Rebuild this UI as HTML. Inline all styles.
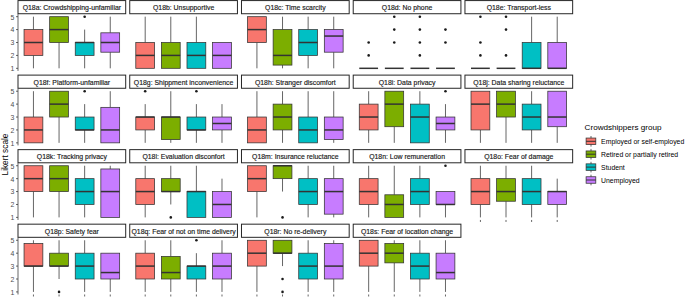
<!DOCTYPE html>
<html><head><meta charset="utf-8"><style>
html,body{margin:0;padding:0;background:#fff;}
svg{display:block;}
text{font-family:"Liberation Sans",sans-serif;}
.st{font-size:6.9px;fill:#1a1a1a;text-anchor:middle;stroke:#1a1a1a;stroke-width:0.16px;}
.tk{font-size:6.9px;fill:#4d4d4d;text-anchor:end;}
.yt{font-size:8.3px;fill:#000;text-anchor:middle;}
.lt{font-size:8.1px;fill:#000;}
.ll{font-size:6.86px;fill:#000;}
.w{stroke:#333;stroke-width:0.75;}
.b{stroke:#333;stroke-width:0.75;}
.m{stroke:#333;stroke-width:1.5;}
.ax{stroke:#333;stroke-width:0.75;}
</style></head><body>
<svg width="685" height="297" viewBox="0 0 685 297">
<rect width="685" height="297" fill="#fff"/>
<rect x="18" y="0.58" width="107.7" height="13.15" fill="#fff" stroke="#262626" stroke-width="1.0"/>
<text x="71.85" y="10.28" class="st">Q18a: Crowdshipping-unfamiliar</text>
<line x1="33.45" y1="16.68" x2="33.45" y2="29.59" class="w"/>
<line x1="33.45" y1="55.41" x2="33.45" y2="68.32" class="w"/>
<rect x="24.05" y="29.59" width="18.8" height="25.82" fill="#F8766D" class="b"/>
<line x1="24.05" y1="42.5" x2="42.85" y2="42.5" class="m"/>
<line x1="59.05" y1="42.5" x2="59.05" y2="68.32" class="w"/>
<rect x="49.65" y="16.68" width="18.8" height="25.82" fill="#7CAE00" class="b"/>
<line x1="49.65" y1="29.59" x2="68.45" y2="29.59" class="m"/>
<line x1="84.65" y1="29.59" x2="84.65" y2="42.5" class="w"/>
<line x1="84.65" y1="55.41" x2="84.65" y2="68.32" class="w"/>
<rect x="75.25" y="42.5" width="18.8" height="12.91" fill="#00BFC4" class="b"/>
<line x1="75.25" y1="42.5" x2="94.05" y2="42.5" class="m"/>
<circle cx="84.65" cy="16.68" r="1.3" fill="#1a1a1a"/>
<line x1="110.25" y1="16.68" x2="110.25" y2="32.82" class="w"/>
<line x1="110.25" y1="52.18" x2="110.25" y2="68.32" class="w"/>
<rect x="100.85" y="32.82" width="18.8" height="19.37" fill="#C77CFF" class="b"/>
<line x1="100.85" y1="42.5" x2="119.65" y2="42.5" class="m"/>
<line x1="18" y1="14.1" x2="18" y2="70.9" class="ax"/>
<line x1="16" y1="68.32" x2="18" y2="68.32" class="ax"/>
<text x="14.4" y="71.22" class="tk">1</text>
<line x1="16" y1="55.41" x2="18" y2="55.41" class="ax"/>
<text x="14.4" y="58.31" class="tk">2</text>
<line x1="16" y1="42.5" x2="18" y2="42.5" class="ax"/>
<text x="14.4" y="45.4" class="tk">3</text>
<line x1="16" y1="29.59" x2="18" y2="29.59" class="ax"/>
<text x="14.4" y="32.49" class="tk">4</text>
<line x1="16" y1="16.68" x2="18" y2="16.68" class="ax"/>
<text x="14.4" y="19.58" class="tk">5</text>
<rect x="129.74" y="0.58" width="107.7" height="13.15" fill="#fff" stroke="#262626" stroke-width="1.0"/>
<text x="183.59" y="10.28" class="st">Q18b: Unsupportive</text>
<line x1="145.19" y1="16.68" x2="145.19" y2="42.5" class="w"/>
<rect x="135.79" y="42.5" width="18.8" height="25.82" fill="#F8766D" class="b"/>
<line x1="135.79" y1="55.41" x2="154.59" y2="55.41" class="m"/>
<line x1="170.79" y1="16.68" x2="170.79" y2="42.5" class="w"/>
<rect x="161.39" y="42.5" width="18.8" height="25.82" fill="#7CAE00" class="b"/>
<line x1="161.39" y1="55.41" x2="180.19" y2="55.41" class="m"/>
<line x1="196.39" y1="16.68" x2="196.39" y2="42.5" class="w"/>
<rect x="186.99" y="42.5" width="18.8" height="25.82" fill="#00BFC4" class="b"/>
<line x1="186.99" y1="55.41" x2="205.79" y2="55.41" class="m"/>
<rect x="212.59" y="42.5" width="18.8" height="25.82" fill="#C77CFF" class="b"/>
<line x1="212.59" y1="55.41" x2="231.39" y2="55.41" class="m"/>
<rect x="241.48" y="0.58" width="107.7" height="13.15" fill="#fff" stroke="#262626" stroke-width="1.0"/>
<text x="295.33" y="10.28" class="st">Q18c: Time scarcity</text>
<line x1="256.93" y1="42.5" x2="256.93" y2="68.32" class="w"/>
<rect x="247.53" y="16.68" width="18.8" height="25.82" fill="#F8766D" class="b"/>
<line x1="247.53" y1="29.59" x2="266.33" y2="29.59" class="m"/>
<line x1="282.53" y1="16.68" x2="282.53" y2="29.59" class="w"/>
<line x1="282.53" y1="65.09" x2="282.53" y2="68.32" class="w"/>
<rect x="273.13" y="29.59" width="18.8" height="35.5" fill="#7CAE00" class="b"/>
<line x1="273.13" y1="55.41" x2="291.93" y2="55.41" class="m"/>
<line x1="308.13" y1="16.68" x2="308.13" y2="29.59" class="w"/>
<line x1="308.13" y1="55.41" x2="308.13" y2="68.32" class="w"/>
<rect x="298.73" y="29.59" width="18.8" height="25.82" fill="#00BFC4" class="b"/>
<line x1="298.73" y1="42.5" x2="317.53" y2="42.5" class="m"/>
<line x1="333.73" y1="16.68" x2="333.73" y2="29.59" class="w"/>
<line x1="333.73" y1="52.18" x2="333.73" y2="68.32" class="w"/>
<rect x="324.33" y="29.59" width="18.8" height="22.59" fill="#C77CFF" class="b"/>
<line x1="324.33" y1="36.05" x2="343.13" y2="36.05" class="m"/>
<rect x="353.22" y="0.58" width="107.7" height="13.15" fill="#fff" stroke="#262626" stroke-width="1.0"/>
<text x="407.07" y="10.28" class="st">Q18d: No phone</text>
<rect x="359.27" y="68.32" width="18.8" height="0" fill="#F8766D" class="b"/>
<line x1="359.27" y1="68.32" x2="378.07" y2="68.32" class="m"/>
<circle cx="368.67" cy="55.41" r="1.3" fill="#1a1a1a"/>
<circle cx="368.67" cy="42.5" r="1.3" fill="#1a1a1a"/>
<rect x="384.87" y="68.32" width="18.8" height="0" fill="#7CAE00" class="b"/>
<line x1="384.87" y1="68.32" x2="403.67" y2="68.32" class="m"/>
<circle cx="394.27" cy="42.5" r="1.3" fill="#1a1a1a"/>
<circle cx="394.27" cy="29.59" r="1.3" fill="#1a1a1a"/>
<circle cx="394.27" cy="16.68" r="1.3" fill="#1a1a1a"/>
<rect x="410.47" y="68.32" width="18.8" height="0" fill="#00BFC4" class="b"/>
<line x1="410.47" y1="68.32" x2="429.27" y2="68.32" class="m"/>
<circle cx="419.87" cy="55.41" r="1.3" fill="#1a1a1a"/>
<circle cx="419.87" cy="42.5" r="1.3" fill="#1a1a1a"/>
<circle cx="419.87" cy="29.59" r="1.3" fill="#1a1a1a"/>
<circle cx="419.87" cy="16.68" r="1.3" fill="#1a1a1a"/>
<rect x="436.07" y="68.32" width="18.8" height="0" fill="#C77CFF" class="b"/>
<line x1="436.07" y1="68.32" x2="454.87" y2="68.32" class="m"/>
<circle cx="445.47" cy="42.5" r="1.3" fill="#1a1a1a"/>
<circle cx="445.47" cy="29.59" r="1.3" fill="#1a1a1a"/>
<rect x="464.96" y="0.58" width="107.7" height="13.15" fill="#fff" stroke="#262626" stroke-width="1.0"/>
<text x="518.81" y="10.28" class="st">Q18e: Transport-less</text>
<rect x="471.01" y="68.32" width="18.8" height="0" fill="#F8766D" class="b"/>
<line x1="471.01" y1="68.32" x2="489.81" y2="68.32" class="m"/>
<circle cx="480.41" cy="55.41" r="1.3" fill="#1a1a1a"/>
<circle cx="480.41" cy="42.5" r="1.3" fill="#1a1a1a"/>
<circle cx="480.41" cy="16.68" r="1.3" fill="#1a1a1a"/>
<rect x="496.61" y="68.32" width="18.8" height="0" fill="#7CAE00" class="b"/>
<line x1="496.61" y1="68.32" x2="515.41" y2="68.32" class="m"/>
<circle cx="506.01" cy="55.41" r="1.3" fill="#1a1a1a"/>
<circle cx="506.01" cy="29.59" r="1.3" fill="#1a1a1a"/>
<circle cx="506.01" cy="16.68" r="1.3" fill="#1a1a1a"/>
<line x1="531.61" y1="16.68" x2="531.61" y2="42.5" class="w"/>
<rect x="522.21" y="42.5" width="18.8" height="25.82" fill="#00BFC4" class="b"/>
<line x1="522.21" y1="68.32" x2="541.01" y2="68.32" class="m"/>
<line x1="557.21" y1="16.68" x2="557.21" y2="42.5" class="w"/>
<rect x="547.81" y="42.5" width="18.8" height="25.82" fill="#C77CFF" class="b"/>
<line x1="547.81" y1="68.32" x2="566.61" y2="68.32" class="m"/>
<rect x="18" y="75.11" width="107.7" height="13.15" fill="#fff" stroke="#262626" stroke-width="1.0"/>
<text x="71.85" y="84.81" class="st">Q18f: Platform-unfamiliar</text>
<line x1="33.45" y1="91.21" x2="33.45" y2="117.03" class="w"/>
<rect x="24.05" y="117.03" width="18.8" height="25.82" fill="#F8766D" class="b"/>
<line x1="24.05" y1="129.94" x2="42.85" y2="129.94" class="m"/>
<line x1="59.05" y1="117.03" x2="59.05" y2="142.85" class="w"/>
<rect x="49.65" y="91.21" width="18.8" height="25.82" fill="#7CAE00" class="b"/>
<line x1="49.65" y1="104.12" x2="68.45" y2="104.12" class="m"/>
<line x1="84.65" y1="104.12" x2="84.65" y2="117.03" class="w"/>
<line x1="84.65" y1="129.94" x2="84.65" y2="142.85" class="w"/>
<rect x="75.25" y="117.03" width="18.8" height="12.91" fill="#00BFC4" class="b"/>
<line x1="75.25" y1="129.94" x2="94.05" y2="129.94" class="m"/>
<circle cx="84.65" cy="91.21" r="1.3" fill="#1a1a1a"/>
<line x1="110.25" y1="91.21" x2="110.25" y2="107.35" class="w"/>
<rect x="100.85" y="107.35" width="18.8" height="35.5" fill="#C77CFF" class="b"/>
<line x1="100.85" y1="129.94" x2="119.65" y2="129.94" class="m"/>
<line x1="18" y1="88.63" x2="18" y2="145.43" class="ax"/>
<line x1="16" y1="142.85" x2="18" y2="142.85" class="ax"/>
<text x="14.4" y="145.75" class="tk">1</text>
<line x1="16" y1="129.94" x2="18" y2="129.94" class="ax"/>
<text x="14.4" y="132.84" class="tk">2</text>
<line x1="16" y1="117.03" x2="18" y2="117.03" class="ax"/>
<text x="14.4" y="119.93" class="tk">3</text>
<line x1="16" y1="104.12" x2="18" y2="104.12" class="ax"/>
<text x="14.4" y="107.02" class="tk">4</text>
<line x1="16" y1="91.21" x2="18" y2="91.21" class="ax"/>
<text x="14.4" y="94.11" class="tk">5</text>
<rect x="129.74" y="75.11" width="107.7" height="13.15" fill="#fff" stroke="#262626" stroke-width="1.0"/>
<text x="183.59" y="84.81" class="st">Q18g: Shippment inconvenience</text>
<line x1="145.19" y1="104.12" x2="145.19" y2="117.03" class="w"/>
<line x1="145.19" y1="129.94" x2="145.19" y2="142.85" class="w"/>
<rect x="135.79" y="117.03" width="18.8" height="12.91" fill="#F8766D" class="b"/>
<line x1="135.79" y1="117.03" x2="154.59" y2="117.03" class="m"/>
<circle cx="145.19" cy="91.21" r="1.3" fill="#1a1a1a"/>
<line x1="170.79" y1="91.21" x2="170.79" y2="117.03" class="w"/>
<line x1="170.79" y1="139.62" x2="170.79" y2="142.85" class="w"/>
<rect x="161.39" y="117.03" width="18.8" height="22.59" fill="#7CAE00" class="b"/>
<line x1="161.39" y1="117.03" x2="180.19" y2="117.03" class="m"/>
<line x1="196.39" y1="104.12" x2="196.39" y2="117.03" class="w"/>
<line x1="196.39" y1="129.94" x2="196.39" y2="142.85" class="w"/>
<rect x="186.99" y="117.03" width="18.8" height="12.91" fill="#00BFC4" class="b"/>
<line x1="186.99" y1="129.94" x2="205.79" y2="129.94" class="m"/>
<circle cx="196.39" cy="91.21" r="1.3" fill="#1a1a1a"/>
<line x1="221.99" y1="104.12" x2="221.99" y2="117.03" class="w"/>
<line x1="221.99" y1="129.94" x2="221.99" y2="142.85" class="w"/>
<rect x="212.59" y="117.03" width="18.8" height="12.91" fill="#C77CFF" class="b"/>
<line x1="212.59" y1="123.49" x2="231.39" y2="123.49" class="m"/>
<rect x="241.48" y="75.11" width="107.7" height="13.15" fill="#fff" stroke="#262626" stroke-width="1.0"/>
<text x="295.33" y="84.81" class="st">Q18h: Stranger discomfort</text>
<line x1="256.93" y1="91.21" x2="256.93" y2="117.03" class="w"/>
<rect x="247.53" y="117.03" width="18.8" height="25.82" fill="#F8766D" class="b"/>
<line x1="247.53" y1="129.94" x2="266.33" y2="129.94" class="m"/>
<line x1="282.53" y1="91.21" x2="282.53" y2="104.12" class="w"/>
<line x1="282.53" y1="129.94" x2="282.53" y2="142.85" class="w"/>
<rect x="273.13" y="104.12" width="18.8" height="25.82" fill="#7CAE00" class="b"/>
<line x1="273.13" y1="117.03" x2="291.93" y2="117.03" class="m"/>
<line x1="308.13" y1="91.21" x2="308.13" y2="117.03" class="w"/>
<rect x="298.73" y="117.03" width="18.8" height="25.82" fill="#00BFC4" class="b"/>
<line x1="298.73" y1="129.94" x2="317.53" y2="129.94" class="m"/>
<line x1="333.73" y1="91.21" x2="333.73" y2="117.03" class="w"/>
<line x1="333.73" y1="139.62" x2="333.73" y2="142.85" class="w"/>
<rect x="324.33" y="117.03" width="18.8" height="22.59" fill="#C77CFF" class="b"/>
<line x1="324.33" y1="129.94" x2="343.13" y2="129.94" class="m"/>
<rect x="353.22" y="75.11" width="107.7" height="13.15" fill="#fff" stroke="#262626" stroke-width="1.0"/>
<text x="407.07" y="84.81" class="st">Q18i: Data privacy</text>
<line x1="368.67" y1="91.21" x2="368.67" y2="104.12" class="w"/>
<line x1="368.67" y1="129.94" x2="368.67" y2="142.85" class="w"/>
<rect x="359.27" y="104.12" width="18.8" height="25.82" fill="#F8766D" class="b"/>
<line x1="359.27" y1="117.03" x2="378.07" y2="117.03" class="m"/>
<line x1="394.27" y1="126.71" x2="394.27" y2="142.85" class="w"/>
<rect x="384.87" y="91.21" width="18.8" height="35.5" fill="#7CAE00" class="b"/>
<line x1="384.87" y1="104.12" x2="403.67" y2="104.12" class="m"/>
<line x1="419.87" y1="91.21" x2="419.87" y2="104.12" class="w"/>
<rect x="410.47" y="104.12" width="18.8" height="38.73" fill="#00BFC4" class="b"/>
<line x1="410.47" y1="117.03" x2="429.27" y2="117.03" class="m"/>
<line x1="445.47" y1="104.12" x2="445.47" y2="117.03" class="w"/>
<line x1="445.47" y1="129.94" x2="445.47" y2="142.85" class="w"/>
<rect x="436.07" y="117.03" width="18.8" height="12.91" fill="#C77CFF" class="b"/>
<line x1="436.07" y1="123.49" x2="454.87" y2="123.49" class="m"/>
<circle cx="445.47" cy="91.21" r="1.3" fill="#1a1a1a"/>
<rect x="464.96" y="75.11" width="107.7" height="13.15" fill="#fff" stroke="#262626" stroke-width="1.0"/>
<text x="518.81" y="84.81" class="st">Q18j: Data sharing reluctance</text>
<line x1="480.41" y1="129.94" x2="480.41" y2="142.85" class="w"/>
<rect x="471.01" y="91.21" width="18.8" height="38.73" fill="#F8766D" class="b"/>
<line x1="471.01" y1="104.12" x2="489.81" y2="104.12" class="m"/>
<line x1="506.01" y1="117.03" x2="506.01" y2="142.85" class="w"/>
<rect x="496.61" y="91.21" width="18.8" height="25.82" fill="#7CAE00" class="b"/>
<line x1="496.61" y1="104.12" x2="515.41" y2="104.12" class="m"/>
<line x1="531.61" y1="91.21" x2="531.61" y2="104.12" class="w"/>
<line x1="531.61" y1="129.94" x2="531.61" y2="142.85" class="w"/>
<rect x="522.21" y="104.12" width="18.8" height="25.82" fill="#00BFC4" class="b"/>
<line x1="522.21" y1="117.03" x2="541.01" y2="117.03" class="m"/>
<line x1="557.21" y1="126.71" x2="557.21" y2="142.85" class="w"/>
<rect x="547.81" y="91.21" width="18.8" height="35.5" fill="#C77CFF" class="b"/>
<line x1="547.81" y1="117.03" x2="566.61" y2="117.03" class="m"/>
<rect x="18" y="149.64" width="107.7" height="13.15" fill="#fff" stroke="#262626" stroke-width="1.0"/>
<text x="71.85" y="159.34" class="st">Q18k: Tracking privacy</text>
<line x1="33.45" y1="191.56" x2="33.45" y2="217.38" class="w"/>
<rect x="24.05" y="165.74" width="18.8" height="25.82" fill="#F8766D" class="b"/>
<line x1="24.05" y1="178.65" x2="42.85" y2="178.65" class="m"/>
<line x1="59.05" y1="191.56" x2="59.05" y2="217.38" class="w"/>
<rect x="49.65" y="165.74" width="18.8" height="25.82" fill="#7CAE00" class="b"/>
<line x1="49.65" y1="178.65" x2="68.45" y2="178.65" class="m"/>
<line x1="84.65" y1="165.74" x2="84.65" y2="178.65" class="w"/>
<line x1="84.65" y1="204.47" x2="84.65" y2="217.38" class="w"/>
<rect x="75.25" y="178.65" width="18.8" height="25.82" fill="#00BFC4" class="b"/>
<line x1="75.25" y1="191.56" x2="94.05" y2="191.56" class="m"/>
<line x1="110.25" y1="165.74" x2="110.25" y2="168.97" class="w"/>
<rect x="100.85" y="168.97" width="18.8" height="48.41" fill="#C77CFF" class="b"/>
<line x1="100.85" y1="191.56" x2="119.65" y2="191.56" class="m"/>
<line x1="18" y1="163.16" x2="18" y2="219.96" class="ax"/>
<line x1="16" y1="217.38" x2="18" y2="217.38" class="ax"/>
<text x="14.4" y="220.28" class="tk">1</text>
<line x1="16" y1="204.47" x2="18" y2="204.47" class="ax"/>
<text x="14.4" y="207.37" class="tk">2</text>
<line x1="16" y1="191.56" x2="18" y2="191.56" class="ax"/>
<text x="14.4" y="194.46" class="tk">3</text>
<line x1="16" y1="178.65" x2="18" y2="178.65" class="ax"/>
<text x="14.4" y="181.55" class="tk">4</text>
<line x1="16" y1="165.74" x2="18" y2="165.74" class="ax"/>
<text x="14.4" y="168.64" class="tk">5</text>
<rect x="129.74" y="149.64" width="107.7" height="13.15" fill="#fff" stroke="#262626" stroke-width="1.0"/>
<text x="183.59" y="159.34" class="st">Q18l: Evaluation disconfort</text>
<line x1="145.19" y1="165.74" x2="145.19" y2="178.65" class="w"/>
<line x1="145.19" y1="204.47" x2="145.19" y2="217.38" class="w"/>
<rect x="135.79" y="178.65" width="18.8" height="25.82" fill="#F8766D" class="b"/>
<line x1="135.79" y1="191.56" x2="154.59" y2="191.56" class="m"/>
<line x1="170.79" y1="165.74" x2="170.79" y2="178.65" class="w"/>
<line x1="170.79" y1="191.56" x2="170.79" y2="204.47" class="w"/>
<rect x="161.39" y="178.65" width="18.8" height="12.91" fill="#7CAE00" class="b"/>
<line x1="161.39" y1="191.56" x2="180.19" y2="191.56" class="m"/>
<circle cx="170.79" cy="217.38" r="1.3" fill="#1a1a1a"/>
<line x1="196.39" y1="165.74" x2="196.39" y2="191.56" class="w"/>
<rect x="186.99" y="191.56" width="18.8" height="25.82" fill="#00BFC4" class="b"/>
<line x1="186.99" y1="191.56" x2="205.79" y2="191.56" class="m"/>
<line x1="221.99" y1="178.65" x2="221.99" y2="191.56" class="w"/>
<rect x="212.59" y="191.56" width="18.8" height="25.82" fill="#C77CFF" class="b"/>
<line x1="212.59" y1="204.47" x2="231.39" y2="204.47" class="m"/>
<rect x="241.48" y="149.64" width="107.7" height="13.15" fill="#fff" stroke="#262626" stroke-width="1.0"/>
<text x="295.33" y="159.34" class="st">Q18m: Insurance reluctance</text>
<line x1="256.93" y1="191.56" x2="256.93" y2="217.38" class="w"/>
<rect x="247.53" y="165.74" width="18.8" height="25.82" fill="#F8766D" class="b"/>
<line x1="247.53" y1="178.65" x2="266.33" y2="178.65" class="m"/>
<line x1="282.53" y1="178.65" x2="282.53" y2="191.56" class="w"/>
<rect x="273.13" y="165.74" width="18.8" height="12.91" fill="#7CAE00" class="b"/>
<line x1="273.13" y1="165.74" x2="291.93" y2="165.74" class="m"/>
<circle cx="282.53" cy="217.38" r="1.3" fill="#1a1a1a"/>
<line x1="308.13" y1="165.74" x2="308.13" y2="178.65" class="w"/>
<line x1="308.13" y1="204.47" x2="308.13" y2="217.38" class="w"/>
<rect x="298.73" y="178.65" width="18.8" height="25.82" fill="#00BFC4" class="b"/>
<line x1="298.73" y1="191.56" x2="317.53" y2="191.56" class="m"/>
<line x1="333.73" y1="165.74" x2="333.73" y2="178.65" class="w"/>
<line x1="333.73" y1="214.15" x2="333.73" y2="217.38" class="w"/>
<rect x="324.33" y="178.65" width="18.8" height="35.5" fill="#C77CFF" class="b"/>
<line x1="324.33" y1="191.56" x2="343.13" y2="191.56" class="m"/>
<rect x="353.22" y="149.64" width="107.7" height="13.15" fill="#fff" stroke="#262626" stroke-width="1.0"/>
<text x="407.07" y="159.34" class="st">Q18n: Low remuneration</text>
<line x1="368.67" y1="165.74" x2="368.67" y2="178.65" class="w"/>
<line x1="368.67" y1="204.47" x2="368.67" y2="217.38" class="w"/>
<rect x="359.27" y="178.65" width="18.8" height="25.82" fill="#F8766D" class="b"/>
<line x1="359.27" y1="191.56" x2="378.07" y2="191.56" class="m"/>
<line x1="394.27" y1="165.74" x2="394.27" y2="194.79" class="w"/>
<rect x="384.87" y="194.79" width="18.8" height="22.59" fill="#7CAE00" class="b"/>
<line x1="384.87" y1="204.47" x2="403.67" y2="204.47" class="m"/>
<line x1="419.87" y1="165.74" x2="419.87" y2="178.65" class="w"/>
<line x1="419.87" y1="204.47" x2="419.87" y2="217.38" class="w"/>
<rect x="410.47" y="178.65" width="18.8" height="25.82" fill="#00BFC4" class="b"/>
<line x1="410.47" y1="191.56" x2="429.27" y2="191.56" class="m"/>
<line x1="445.47" y1="204.47" x2="445.47" y2="217.38" class="w"/>
<rect x="436.07" y="191.56" width="18.8" height="12.91" fill="#C77CFF" class="b"/>
<line x1="436.07" y1="204.47" x2="454.87" y2="204.47" class="m"/>
<circle cx="445.47" cy="165.74" r="1.3" fill="#1a1a1a"/>
<rect x="464.96" y="149.64" width="107.7" height="13.15" fill="#fff" stroke="#262626" stroke-width="1.0"/>
<text x="518.81" y="159.34" class="st">Q18o: Fear of damage</text>
<line x1="480.41" y1="165.74" x2="480.41" y2="178.65" class="w"/>
<line x1="480.41" y1="204.47" x2="480.41" y2="217.38" class="w"/>
<rect x="471.01" y="178.65" width="18.8" height="25.82" fill="#F8766D" class="b"/>
<line x1="471.01" y1="191.56" x2="489.81" y2="191.56" class="m"/>
<line x1="506.01" y1="165.74" x2="506.01" y2="178.65" class="w"/>
<line x1="506.01" y1="201.24" x2="506.01" y2="217.38" class="w"/>
<rect x="496.61" y="178.65" width="18.8" height="22.59" fill="#7CAE00" class="b"/>
<line x1="496.61" y1="191.56" x2="515.41" y2="191.56" class="m"/>
<line x1="531.61" y1="165.74" x2="531.61" y2="178.65" class="w"/>
<line x1="531.61" y1="204.47" x2="531.61" y2="217.38" class="w"/>
<rect x="522.21" y="178.65" width="18.8" height="25.82" fill="#00BFC4" class="b"/>
<line x1="522.21" y1="191.56" x2="541.01" y2="191.56" class="m"/>
<line x1="557.21" y1="178.65" x2="557.21" y2="191.56" class="w"/>
<line x1="557.21" y1="204.47" x2="557.21" y2="217.38" class="w"/>
<rect x="547.81" y="191.56" width="18.8" height="12.91" fill="#C77CFF" class="b"/>
<line x1="547.81" y1="191.56" x2="566.61" y2="191.56" class="m"/>
<line x1="480.41" y1="219.96" x2="480.41" y2="221.96" class="ax"/>
<line x1="506.01" y1="219.96" x2="506.01" y2="221.96" class="ax"/>
<line x1="531.61" y1="219.96" x2="531.61" y2="221.96" class="ax"/>
<line x1="557.21" y1="219.96" x2="557.21" y2="221.96" class="ax"/>
<rect x="18" y="224.17" width="107.7" height="13.15" fill="#fff" stroke="#262626" stroke-width="1.0"/>
<text x="71.85" y="233.87" class="st">Q18p: Safety fear</text>
<line x1="33.45" y1="240.27" x2="33.45" y2="243.5" class="w"/>
<line x1="33.45" y1="266.09" x2="33.45" y2="291.91" class="w"/>
<rect x="24.05" y="243.5" width="18.8" height="22.59" fill="#F8766D" class="b"/>
<line x1="24.05" y1="266.09" x2="42.85" y2="266.09" class="m"/>
<line x1="59.05" y1="240.27" x2="59.05" y2="253.18" class="w"/>
<line x1="59.05" y1="266.09" x2="59.05" y2="279" class="w"/>
<rect x="49.65" y="253.18" width="18.8" height="12.91" fill="#7CAE00" class="b"/>
<line x1="49.65" y1="266.09" x2="68.45" y2="266.09" class="m"/>
<circle cx="59.05" cy="291.91" r="1.3" fill="#1a1a1a"/>
<line x1="84.65" y1="240.27" x2="84.65" y2="253.18" class="w"/>
<line x1="84.65" y1="279" x2="84.65" y2="291.91" class="w"/>
<rect x="75.25" y="253.18" width="18.8" height="25.82" fill="#00BFC4" class="b"/>
<line x1="75.25" y1="266.09" x2="94.05" y2="266.09" class="m"/>
<line x1="110.25" y1="279" x2="110.25" y2="291.91" class="w"/>
<rect x="100.85" y="253.18" width="18.8" height="25.82" fill="#C77CFF" class="b"/>
<line x1="100.85" y1="272.55" x2="119.65" y2="272.55" class="m"/>
<line x1="18" y1="237.69" x2="18" y2="294.49" class="ax"/>
<line x1="16" y1="291.91" x2="18" y2="291.91" class="ax"/>
<text x="14.4" y="294.81" class="tk">1</text>
<line x1="16" y1="279" x2="18" y2="279" class="ax"/>
<text x="14.4" y="281.9" class="tk">2</text>
<line x1="16" y1="266.09" x2="18" y2="266.09" class="ax"/>
<text x="14.4" y="268.99" class="tk">3</text>
<line x1="16" y1="253.18" x2="18" y2="253.18" class="ax"/>
<text x="14.4" y="256.08" class="tk">4</text>
<line x1="16" y1="240.27" x2="18" y2="240.27" class="ax"/>
<text x="14.4" y="243.17" class="tk">5</text>
<line x1="33.45" y1="294.49" x2="33.45" y2="296.49" class="ax"/>
<line x1="59.05" y1="294.49" x2="59.05" y2="296.49" class="ax"/>
<line x1="84.65" y1="294.49" x2="84.65" y2="296.49" class="ax"/>
<line x1="110.25" y1="294.49" x2="110.25" y2="296.49" class="ax"/>
<rect x="129.74" y="224.17" width="107.7" height="13.15" fill="#fff" stroke="#262626" stroke-width="1.0"/>
<text x="183.59" y="233.87" class="st">Q18q: Fear of not on time delivery</text>
<line x1="145.19" y1="240.27" x2="145.19" y2="253.18" class="w"/>
<line x1="145.19" y1="279" x2="145.19" y2="291.91" class="w"/>
<rect x="135.79" y="253.18" width="18.8" height="25.82" fill="#F8766D" class="b"/>
<line x1="135.79" y1="266.09" x2="154.59" y2="266.09" class="m"/>
<line x1="170.79" y1="240.27" x2="170.79" y2="256.41" class="w"/>
<line x1="170.79" y1="279" x2="170.79" y2="291.91" class="w"/>
<rect x="161.39" y="256.41" width="18.8" height="22.59" fill="#7CAE00" class="b"/>
<line x1="161.39" y1="272.55" x2="180.19" y2="272.55" class="m"/>
<line x1="196.39" y1="253.18" x2="196.39" y2="266.09" class="w"/>
<line x1="196.39" y1="279" x2="196.39" y2="291.91" class="w"/>
<rect x="186.99" y="266.09" width="18.8" height="12.91" fill="#00BFC4" class="b"/>
<line x1="186.99" y1="266.09" x2="205.79" y2="266.09" class="m"/>
<circle cx="196.39" cy="240.27" r="1.3" fill="#1a1a1a"/>
<line x1="221.99" y1="240.27" x2="221.99" y2="253.18" class="w"/>
<line x1="221.99" y1="279" x2="221.99" y2="291.91" class="w"/>
<rect x="212.59" y="253.18" width="18.8" height="25.82" fill="#C77CFF" class="b"/>
<line x1="212.59" y1="266.09" x2="231.39" y2="266.09" class="m"/>
<line x1="145.19" y1="294.49" x2="145.19" y2="296.49" class="ax"/>
<line x1="170.79" y1="294.49" x2="170.79" y2="296.49" class="ax"/>
<line x1="196.39" y1="294.49" x2="196.39" y2="296.49" class="ax"/>
<line x1="221.99" y1="294.49" x2="221.99" y2="296.49" class="ax"/>
<rect x="241.48" y="224.17" width="107.7" height="13.15" fill="#fff" stroke="#262626" stroke-width="1.0"/>
<text x="295.33" y="233.87" class="st">Q18r: No re-delivery</text>
<line x1="256.93" y1="266.09" x2="256.93" y2="291.91" class="w"/>
<rect x="247.53" y="240.27" width="18.8" height="25.82" fill="#F8766D" class="b"/>
<line x1="247.53" y1="253.18" x2="266.33" y2="253.18" class="m"/>
<line x1="282.53" y1="253.18" x2="282.53" y2="266.09" class="w"/>
<rect x="273.13" y="240.27" width="18.8" height="12.91" fill="#7CAE00" class="b"/>
<line x1="273.13" y1="253.18" x2="291.93" y2="253.18" class="m"/>
<circle cx="282.53" cy="291.91" r="1.3" fill="#1a1a1a"/>
<circle cx="282.53" cy="279" r="1.3" fill="#1a1a1a"/>
<line x1="308.13" y1="240.27" x2="308.13" y2="253.18" class="w"/>
<line x1="308.13" y1="279" x2="308.13" y2="291.91" class="w"/>
<rect x="298.73" y="253.18" width="18.8" height="25.82" fill="#00BFC4" class="b"/>
<line x1="298.73" y1="266.09" x2="317.53" y2="266.09" class="m"/>
<line x1="333.73" y1="240.27" x2="333.73" y2="243.5" class="w"/>
<line x1="333.73" y1="279" x2="333.73" y2="291.91" class="w"/>
<rect x="324.33" y="243.5" width="18.8" height="35.5" fill="#C77CFF" class="b"/>
<line x1="324.33" y1="266.09" x2="343.13" y2="266.09" class="m"/>
<line x1="256.93" y1="294.49" x2="256.93" y2="296.49" class="ax"/>
<line x1="282.53" y1="294.49" x2="282.53" y2="296.49" class="ax"/>
<line x1="308.13" y1="294.49" x2="308.13" y2="296.49" class="ax"/>
<line x1="333.73" y1="294.49" x2="333.73" y2="296.49" class="ax"/>
<rect x="353.22" y="224.17" width="107.7" height="13.15" fill="#fff" stroke="#262626" stroke-width="1.0"/>
<text x="407.07" y="233.87" class="st">Q18s: Fear of location change</text>
<line x1="368.67" y1="266.09" x2="368.67" y2="291.91" class="w"/>
<rect x="359.27" y="240.27" width="18.8" height="25.82" fill="#F8766D" class="b"/>
<line x1="359.27" y1="253.18" x2="378.07" y2="253.18" class="m"/>
<line x1="394.27" y1="240.27" x2="394.27" y2="243.5" class="w"/>
<line x1="394.27" y1="262.86" x2="394.27" y2="291.91" class="w"/>
<rect x="384.87" y="243.5" width="18.8" height="19.37" fill="#7CAE00" class="b"/>
<line x1="384.87" y1="253.18" x2="403.67" y2="253.18" class="m"/>
<line x1="419.87" y1="240.27" x2="419.87" y2="253.18" class="w"/>
<line x1="419.87" y1="279" x2="419.87" y2="291.91" class="w"/>
<rect x="410.47" y="253.18" width="18.8" height="25.82" fill="#00BFC4" class="b"/>
<line x1="410.47" y1="266.09" x2="429.27" y2="266.09" class="m"/>
<line x1="445.47" y1="240.27" x2="445.47" y2="253.18" class="w"/>
<line x1="445.47" y1="279" x2="445.47" y2="291.91" class="w"/>
<rect x="436.07" y="253.18" width="18.8" height="25.82" fill="#C77CFF" class="b"/>
<line x1="436.07" y1="272.55" x2="454.87" y2="272.55" class="m"/>
<line x1="368.67" y1="294.49" x2="368.67" y2="296.49" class="ax"/>
<line x1="394.27" y1="294.49" x2="394.27" y2="296.49" class="ax"/>
<line x1="419.87" y1="294.49" x2="419.87" y2="296.49" class="ax"/>
<line x1="445.47" y1="294.49" x2="445.47" y2="296.49" class="ax"/>
<text transform="translate(8.4,154.5) rotate(-90)" class="yt">Likert scale</text>
<text x="584.6" y="130.4" class="lt">Crowdshippers group</text>
<line x1="591.0" y1="136" x2="591.0" y2="146.6" class="w"/>
<rect x="586.1" y="138.05" width="9.7" height="6.5" fill="#F8766D" class="b"/>
<line x1="586.1" y1="141.3" x2="595.8" y2="141.3" stroke="#333" stroke-width="1.0"/>
<text x="601.1" y="143.8" class="ll">Employed or self-employed</text>
<line x1="591.0" y1="148.9" x2="591.0" y2="159.5" class="w"/>
<rect x="586.1" y="150.95" width="9.7" height="6.5" fill="#7CAE00" class="b"/>
<line x1="586.1" y1="154.2" x2="595.8" y2="154.2" stroke="#333" stroke-width="1.0"/>
<text x="601.1" y="156.7" class="ll">Retired or partially retired</text>
<line x1="591.0" y1="161.8" x2="591.0" y2="172.4" class="w"/>
<rect x="586.1" y="163.85" width="9.7" height="6.5" fill="#00BFC4" class="b"/>
<line x1="586.1" y1="167.1" x2="595.8" y2="167.1" stroke="#333" stroke-width="1.0"/>
<text x="601.1" y="169.6" class="ll">Student</text>
<line x1="591.0" y1="174.7" x2="591.0" y2="185.3" class="w"/>
<rect x="586.1" y="176.75" width="9.7" height="6.5" fill="#C77CFF" class="b"/>
<line x1="586.1" y1="180" x2="595.8" y2="180" stroke="#333" stroke-width="1.0"/>
<text x="601.1" y="182.5" class="ll">Unemployed</text>
</svg>
</body></html>
